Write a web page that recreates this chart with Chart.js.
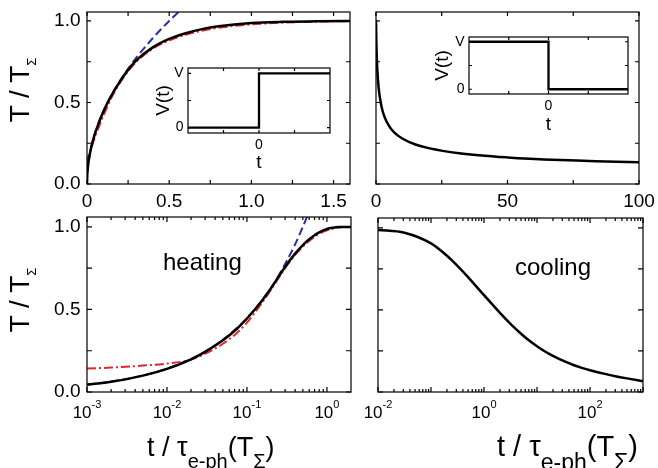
<!DOCTYPE html>
<html>
<head>
<meta charset="utf-8">
<script src="https://cdn.jsdelivr.net/npm/chart.js@4.4.1/dist/chart.umd.min.js"></script>
<style>
  html, body { margin: 0; padding: 0; background: #fff; }
  body { width: 658px; height: 468px; position: relative; overflow: hidden;
         font-family: 'Liberation Sans', Arial, sans-serif; color: #000; }
  canvas { position: absolute; }
  .ytitle { position: absolute; font-size: 28px; line-height: 1; white-space: nowrap;
            transform: translate(-50%, -50%) rotate(-90deg); }
  .ytitle sub { font-size: 13px; vertical-align: -0.5em; }
  .xtitle { position: absolute; line-height: 1; white-space: nowrap; }
  .xtitle sub { vertical-align: -0.6em; }
</style>
</head>
<body>
<canvas id="heatLin"></canvas>
<canvas id="coolLin"></canvas>
<canvas id="heatLog"></canvas>
<canvas id="coolLog"></canvas>
<canvas id="heatInset"></canvas>
<canvas id="coolInset"></canvas>

<div class="ytitle" style="left:22px; top:90px">T / T<sub>Σ</sub></div>
<div class="ytitle" style="left:22px; top:300px">T / T<sub>Σ</sub></div>
<div class="xtitle" style="left:147px; top:434px; font-size:27px">t / τ<sub style="font-size:20px">e-ph</sub>(T<sub style="font-size:20px">Σ</sub>)</div>
<div class="xtitle" style="left:497px; top:432px; font-size:29px">t / τ<sub style="font-size:23px">e-ph</sub>(T<sub style="font-size:23px">Σ</sub>)</div>

<script>
const FONT = "'Liberation Sans', Arial, sans-serif";

// heating after the bias is switched on: t / tau_e-ph against T / T_sigma
const heatTime  = [0, 0.001, 0.002, 0.005, 0.01, 0.02, 0.03, 0.05, 0.075, 0.1, 0.15, 0.2,
                   0.25, 0.3, 0.4, 0.5, 0.6, 0.7, 0.8, 1.0, 1.2, 1.4, 1.6, 2.0];
const heatExact = [0, 0.044, 0.062, 0.099, 0.14, 0.198, 0.243, 0.313, 0.383, 0.445, 0.545, 0.628,
                   0.7, 0.758, 0.838, 0.89, 0.925, 0.95, 0.967, 0.987, 0.995, 0.999, 1.0, 1.0];
const heatFit   = [0.13, 0.142, 0.148, 0.16, 0.172, 0.196, 0.232, 0.292, 0.358, 0.42, 0.532, 0.62,
                   0.692, 0.75, 0.83, 0.88, 0.915, 0.94, 0.958, 0.979, 0.99, 0.996, 0.999, 1.0];
// short-time limit, only up to where it leaves the frame
const heatSqrt  = [0, 0.045, 0.063, 0.1, 0.141, 0.2, 0.245, 0.316, 0.387, 0.447, 0.548, 0.632,
                   0.707, 0.775, 0.894, 1.0, 1.095];

// cooling after the bias is switched off
const coolTime = [0, 0.01, 0.0316, 0.1, 0.2, 0.316, 0.5, 1, 2, 3.16, 5, 7, 10, 15, 20, 31.6,
                  50, 70, 100, 200, 316, 500, 1000];
const coolTemp = [1.0, 0.987, 0.97, 0.905, 0.83, 0.769, 0.7, 0.59, 0.482, 0.415, 0.355, 0.315,
                  0.279, 0.242, 0.22, 0.189, 0.163, 0.147, 0.133, 0.109, 0.095, 0.083, 0.066];

// bias pulses in the insets
const pulseTime = [-2, 0, 0, 2];
const pulseOn   = [0, 0, 1, 1];
const pulseOff  = [1, 1, 0, 0];

// ticks and their labels
const tempTicks       = [0, 0.25, 0.5, 0.75, 1.0];
const tempTickLabels  = ['0.0', '', '0.5', '', '1.0'];
const heatLinTicks    = [0, 0.25, 0.5, 0.75, 1.0, 1.25, 1.5];
const heatLinLabels   = ['0', '', '0.5', '', '1.0', '', '1.5'];
const coolLinTicks    = [0, 25, 50, 75, 100];
const coolLinLabels   = ['0', '', '50', '', '100'];
const heatLogDecades  = [-3, -2, -1, 0];
const heatLogPowers   = [-3, -2, -1, 0];
const coolLogDecades  = [-2, -1, 0, 1, 2, 3];
const coolLogPowers   = [-2, 0, 2];
const pulseTimeTicks  = [-1, 0, 1];
const pulseTimeLabels = ['', '0', ''];
const pulseVTicks     = [0, 0.5, 1];
const pulseVLabels    = ['0', '', 'V'];

const toPoints = (xs, ys) => ys.map((y, i) => ({ x: xs[i], y }));
const positive = pts => pts.filter(p => p.x > 0);
const decades = list => list.map(e => Math.pow(10, e));

function minorTicks(lo, hi, max) {
    const out = [];
    for (let e = lo; e <= hi; e++) {
        for (let m = 2; m <= 9; m++) {
            const v = m * Math.pow(10, e);
            if (v < max) out.push(v);
        }
    }
    return out;
}

function curve(data, color, width, dash) {
    return {
        data, borderColor: color, borderWidth: width, borderDash: dash || [],
        pointRadius: 0, fill: false, cubicInterpolationMode: 'monotone', clip: 0
    };
}

// frame, inward tick marks, power-of-ten labels and the panel note
const framePlugin = {
    id: 'frame',
    beforeDatasetsDraw(chart, args, o) {
        if (!o.fillWhite) return;
        const a = chart.chartArea, ctx = chart.ctx;
        ctx.save();
        ctx.fillStyle = '#fff';
        ctx.fillRect(a.left, a.top, a.right - a.left, a.bottom - a.top);
        ctx.restore();
    },
    afterDatasetsDraw(chart, args, o) {
        const { ctx, chartArea: a, scales: { x, y } } = chart;
        ctx.save();
        ctx.strokeStyle = '#000';
        ctx.lineWidth = o.lineWidth || 1.2;
        ctx.strokeRect(a.left, a.top, a.right - a.left, a.bottom - a.top);
        ctx.beginPath();
        const xMarks = (vals, len) => vals.forEach(v => {
            const p = x.getPixelForValue(v);
            ctx.moveTo(p, a.bottom); ctx.lineTo(p, a.bottom - len);
            ctx.moveTo(p, a.top); ctx.lineTo(p, a.top + len);
        });
        const yMarks = (vals, len) => vals.forEach(v => {
            const p = y.getPixelForValue(v);
            ctx.moveTo(a.left, p); ctx.lineTo(a.left + len, p);
            ctx.moveTo(a.right, p); ctx.lineTo(a.right - len, p);
        });
        xMarks(o.xTicks || [], o.tickLen);
        xMarks(o.xMinor || [], o.minorLen || 3);
        yMarks(o.yTicks || [], o.tickLen);
        ctx.stroke();

        ctx.fillStyle = '#000';
        ctx.textAlign = 'left';
        ctx.textBaseline = 'alphabetic';
        (o.powers || []).forEach(e => {
            const p = x.getPixelForValue(Math.pow(10, e));
            const base = '10', sup = String(e);
            ctx.font = '17px ' + FONT;
            const wb = ctx.measureText(base).width;
            ctx.font = '11px ' + FONT;
            const ws = ctx.measureText(sup).width;
            const left = p - (wb + ws) / 2, by = a.bottom + 26;
            ctx.font = '17px ' + FONT;
            ctx.fillText(base, left, by);
            ctx.font = '11px ' + FONT;
            ctx.fillText(sup, left + wb, by - 10);
        });

        if (o.note) {
            ctx.font = '24px ' + FONT;
            ctx.fillText(o.note.text, a.left + o.note.dx, a.top + o.note.dy);
        }
        ctx.restore();
    }
};

function scaleCfg(o) {
    return {
        type: o.type || 'linear',
        min: o.min, max: o.max,
        grid: { display: false, drawTicks: false },
        border: { display: false },
        title: o.title
            ? { display: true, text: o.title, color: '#000',
                font: { family: FONT, size: o.titleSize }, padding: o.titlePad }
            : { display: false },
        ticks: {
            display: !!o.labels, autoSkip: false, maxRotation: 0, minRotation: 0,
            padding: o.labelPad || 0, color: '#000',
            font: { family: FONT, size: o.labelSize || 19 },
            callback: (v, i) => (o.labels ? o.labels[i] : '')
        },
        afterBuildTicks: s => { s.ticks = o.ticks.map(value => ({ value })); },
        afterFit: s => {
            if (o.axis === 'x') s.height = o.size; else s.width = o.size;
            s.paddingLeft = s.paddingRight = s.paddingTop = s.paddingBottom = 0;
        }
    };
}

function makeChart(id, box, pad, datasets, x, y, frame) {
    const cv = document.getElementById(id);
    const w = box.right - box.left + pad.left + pad.right;
    const h = box.bottom - box.top + pad.top + pad.bottom;
    cv.width = w;
    cv.height = h;
    Object.assign(cv.style, {
        left: (box.left - pad.left) + 'px', top: (box.top - pad.top) + 'px',
        width: w + 'px', height: h + 'px'
    });
    x.axis = 'x'; x.size = pad.bottom;
    y.axis = 'y'; y.size = pad.left;
    return new Chart(cv, {
        type: 'line',
        data: { datasets },
        options: {
            responsive: false,
            animation: false,
            layout: { padding: { left: 0, top: pad.top, right: pad.right, bottom: 0 } },
            plugins: { legend: { display: false }, tooltip: { enabled: false }, frame },
            scales: { x: scaleCfg(x), y: scaleCfg(y) }
        },
        plugins: [framePlugin]
    });
}

const mainPad = { left: 80, top: 12, right: 25, bottom: 40 };

// top left: heating, linear time
makeChart('heatLin', { left: 87, top: 12, right: 350, bottom: 184 }, mainPad, [
    curve(toPoints(heatTime, heatExact), '#000', 2.5),
    curve(toPoints(heatTime, heatFit), '#e3262b', 2, [9, 3, 2, 3]),
    curve(toPoints(heatTime, heatSqrt), '#2e2e9e', 2, [8, 4])
], { min: 0, max: 1.6, ticks: heatLinTicks, labels: heatLinLabels, labelPad: 6 },
   { min: 0, max: 1.055, ticks: tempTicks, labels: tempTickLabels, labelPad: 6.5 },
   { xTicks: heatLinTicks, yTicks: tempTicks, tickLen: 4 });

// top right: cooling, linear time
makeChart('coolLin', { left: 376, top: 12, right: 639, bottom: 184 }, mainPad, [
    curve(toPoints(coolTime, coolTemp), '#000', 2.5)
], { min: 0, max: 100, ticks: coolLinTicks, labels: coolLinLabels, labelPad: 6 },
   { min: 0, max: 1.055, ticks: tempTicks },
   { xTicks: coolLinTicks, yTicks: tempTicks, tickLen: 4 });

// bottom left: heating, log time
makeChart('heatLog', { left: 87, top: 217, right: 351, bottom: 392 }, mainPad, [
    curve(positive(toPoints(heatTime, heatExact)), '#000', 2.5),
    curve(positive(toPoints(heatTime, heatFit)), '#e3262b', 2, [9, 3, 2, 3]),
    curve(positive(toPoints(heatTime, heatSqrt)), '#2e2e9e', 2, [8, 4])
], { type: 'logarithmic', min: 1e-3, max: 2, ticks: decades(heatLogDecades) },
   { min: 0, max: 1.06, ticks: tempTicks, labels: tempTickLabels, labelPad: 6.5 },
   { xTicks: decades(heatLogDecades), xMinor: minorTicks(-3, 0, 2), yTicks: tempTicks,
     tickLen: 5, minorLen: 3, powers: heatLogPowers,
     note: { text: 'heating', dx: 76, dy: 52.5 } });

// bottom right: cooling, log time
makeChart('coolLog', { left: 378, top: 218, right: 643, bottom: 392 }, mainPad, [
    curve(positive(toPoints(coolTime, coolTemp)), '#000', 2.5)
], { type: 'logarithmic', min: 1e-2, max: 1e3, ticks: decades(coolLogDecades) },
   { min: 0, max: 1.06, ticks: tempTicks },
   { xTicks: decades(coolLogDecades), xMinor: minorTicks(-2, 2, 1000), yTicks: tempTicks,
     tickLen: 5, minorLen: 3, powers: coolLogPowers,
     note: { text: 'cooling', dx: 137, dy: 57 } });

// insets: the bias pulse V(t)
function pulse(id, box, pad, values, yTitlePad) {
    makeChart(id, box, pad, [
        { data: toPoints(pulseTime, values), borderColor: '#000', borderWidth: 2.3,
          pointRadius: 0, fill: false, tension: 0, clip: 0 }
    ], { min: -2, max: 2, ticks: pulseTimeTicks, labels: pulseTimeLabels, labelSize: 14,
         labelPad: 4, title: 't', titleSize: 19, titlePad: { top: 0, bottom: 0 } },
       { min: -0.1, max: 1.1, ticks: pulseVTicks, labels: pulseVLabels, labelSize: 14,
         labelPad: 4.5, title: 'V(t)', titleSize: 19, titlePad: { top: yTitlePad, bottom: 0 } },
       { xTicks: pulseTimeTicks, yTicks: pulseVTicks, tickLen: 3, fillWhite: true });
}

pulse('heatInset', { left: 188, top: 68, right: 330, bottom: 133 },
      { left: 38, top: 4, right: 4, bottom: 41 }, pulseOn, 2);
pulse('coolInset', { left: 469, top: 37, right: 628, bottom: 94 },
      { left: 38, top: 4, right: 4, bottom: 42 }, pulseOff, 0);
</script>
</body>
</html>
